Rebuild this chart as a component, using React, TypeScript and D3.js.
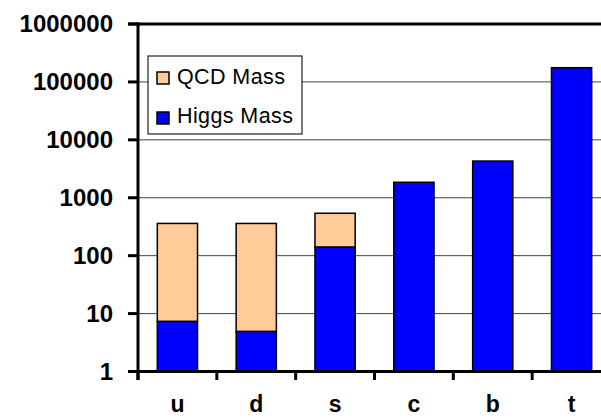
import React from "react";
import * as d3 from "d3";

const categories = ["u", "d", "s", "c", "b", "t"];
const higgsMass = [7.3, 4.9, 140, 1850, 4300, 176000];
const qcdMass = [353, 355, 400, 0, 0, 0];
const yTicks = [1, 10, 100, 1000, 10000, 100000, 1000000];
const seriesNames = ["QCD Mass", "Higgs Mass"];

const W = 601;
const H = 419;
const BLUE = "#0000ff";
const PEACH = "#ffcc99";
const FONT = "'Liberation Sans', Arial, sans-serif";

export default function App() {
  const x = d3
    .scaleBand<string>()
    .domain(categories)
    .range([138, 611])
    .paddingInner(0.49)
    .paddingOuter(0.245);
  const step = x.step();
  const y = d3.scaleLog().domain([1, 1e6]).range([371.5, 24]);

  const bars = categories.map((c, i) => {
    const h = higgsMass[i];
    const total = h + qcdMass[i];
    return { c, h, total };
  });

  return (
    <svg
      width={W}
      height={H}
      style={{ position: "absolute", left: 0, top: 0, background: "#fff" }}
    >
      <rect x={0} y={0} width={W} height={H} fill="#fff" />
      {yTicks.slice(1, -1).map((t) => (
        <line
          key={t}
          x1={138}
          x2={W}
          y1={y(t)}
          y2={y(t)}
          stroke="#444"
          strokeWidth={1}
        />
      ))}
      {bars.map((b) => (
        <g key={b.c}>
          {b.total > b.h && (
            <rect
              x={x(b.c)}
              width={x.bandwidth()}
              y={y(b.total)}
              height={y(b.h) - y(b.total)}
              fill={PEACH}
              stroke="#000"
              strokeWidth={1.5}
            />
          )}
          <rect
            x={x(b.c)}
            width={x.bandwidth()}
            y={y(b.h)}
            height={y(1) - y(b.h)}
            fill={BLUE}
            stroke="#000"
            strokeWidth={1.5}
          />
        </g>
      ))}
      <line x1={128} x2={W} y1={y(1e6)} y2={y(1e6)} stroke="#000" strokeWidth={3} />
      <line x1={138} x2={138} y1={y(1e6) - 1.5} y2={380} stroke="#000" strokeWidth={3} />
      {yTicks.map((t) => (
        <g key={t}>
          <line x1={128} x2={138} y1={y(t)} y2={y(t)} stroke="#000" strokeWidth={3} />
          <text
            x={113}
            y={y(t) + 8}
            textAnchor="end"
            fontFamily={FONT}
            fontWeight="bold"
            fontSize={24}
            fill="#000"
          >
            {t}
          </text>
        </g>
      ))}
      <line x1={128} x2={W} y1={y(1)} y2={y(1)} stroke="#000" strokeWidth={3} />
      {categories.map((c, i) => (
        <line
          key={"tk" + c}
          x1={138 + i * step}
          x2={138 + i * step}
          y1={y(1)}
          y2={380}
          stroke="#000"
          strokeWidth={3}
        />
      ))}
      {categories.map((c) => (
        <text
          key={"lb" + c}
          x={(x(c) as number) + x.bandwidth() / 2}
          y={412}
          textAnchor="middle"
          fontFamily={FONT}
          fontWeight="bold"
          fontSize={23}
          fill="#000"
        >
          {c}
        </text>
      ))}
      <rect x={148} y={56} width={154} height={78} fill="#fff" stroke="#222" strokeWidth={1.2} />
      {seriesNames.map((n, i) => (
        <g key={n}>
          <rect
            x={157}
            y={72 + i * 40}
            width={12}
            height={12}
            fill={i === 0 ? PEACH : BLUE}
            stroke="#000"
            strokeWidth={1.5}
          />
          <text
            x={177}
            y={84 + i * 39}
            fontFamily={FONT}
            fontSize={21.5}
            letterSpacing={0.4}
            fill="#000"
          >
            {n}
          </text>
        </g>
      ))}
    </svg>
  );
}
